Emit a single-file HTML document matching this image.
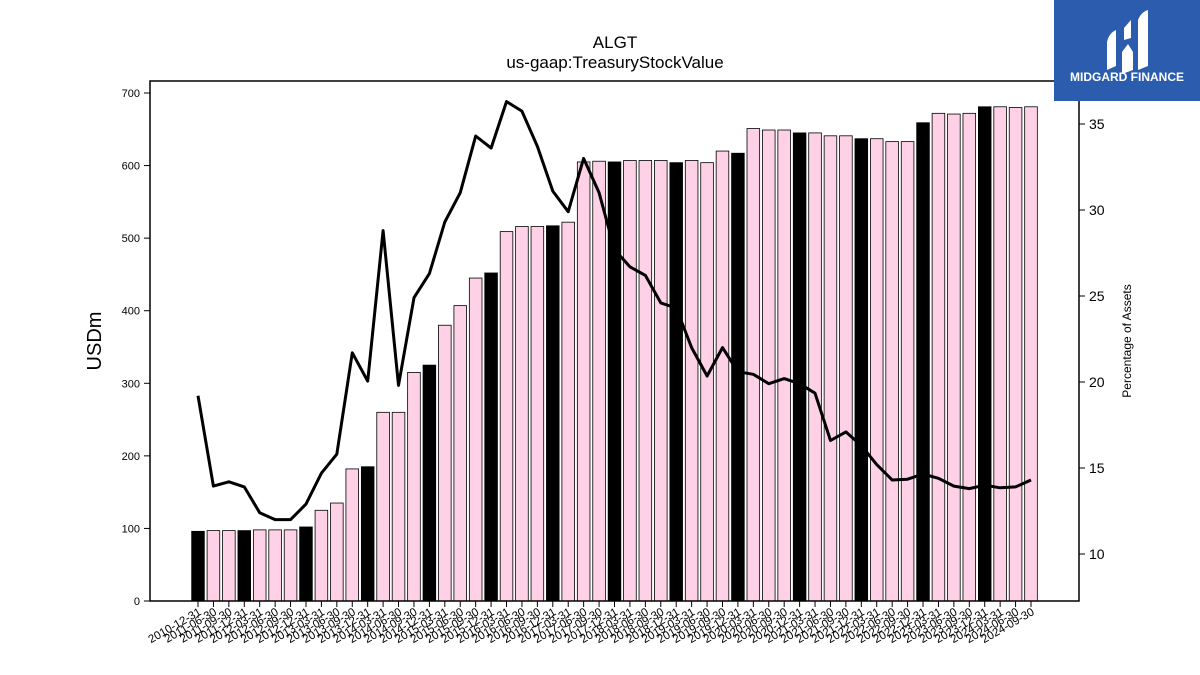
<!DOCTYPE html>
<html><head><meta charset="utf-8">
<style>
body{margin:0;background:#fff;}
svg{display:block;font-family:"Liberation Sans","DejaVu Sans",sans-serif;}
</style></head>
<body>
<svg id="chart" width="1200" height="675" viewBox="0 0 1200 675">
  <rect x="0" y="0" width="1200" height="675" fill="#fff"/>
  <text x="615" y="48" text-anchor="middle" font-size="17">ALGT</text>
  <text x="615" y="68" text-anchor="middle" font-size="17">us-gaap:TreasuryStockValue</text>
  <g id="bars"></g>
  <g id="line"></g>
  <g id="axes"></g>
  <rect x="150" y="81" width="929" height="520" fill="none" stroke="#000" stroke-width="1.5"/>
  <text x="0" y="0" transform="translate(101,341) rotate(-90)" text-anchor="middle" font-size="20">USDm</text>
  <text x="0" y="0" transform="translate(1131,341) rotate(-90)" text-anchor="middle" font-size="12">Percentage of Assets</text>
  <g>
    <rect x="1054" y="0" width="146" height="101" fill="#2b5cad"/>
    <path d="M1107 70 L1107 42 Q1109 33 1116 30 L1116 66 Z" fill="#fff"/>
    <path d="M1122 74 L1122 52 L1128 44 L1133 52 L1133 70 Z M1124 28 L1131 20 L1131 38 L1124 40 Z" fill="#fff"/>
    <path d="M1138 70 L1138 20 Q1141 12 1148 10 L1148 66 Z" fill="#fff"/>
    <text x="1127" y="81" text-anchor="middle" font-size="12" font-weight="bold" fill="#fff">MIDGARD FINANCE</text>
  </g>
</svg>
<script>
const barValues=[96,97,97,97,98,98,98,102,125,135,182,185,260,260,315,325,380,407,445,452,509,516,516,517,522,605,606,605,607,607,607,604,607,604,620,617,651,649,649,645,645,641,641,637,637,633,633,659,672,671,672,681,681,680,681];
const pctValues=[19.2,13.95,14.2,13.9,12.4,12.0,12.0,12.9,14.7,15.8,21.7,20.05,28.8,19.8,24.9,26.3,29.3,31.0,34.3,33.6,36.3,35.75,33.7,31.1,29.9,33.0,31.0,27.7,26.7,26.2,24.6,24.3,22.0,20.35,22.0,20.6,20.45,19.9,20.2,19.9,19.35,16.6,17.1,16.3,15.2,14.3,14.35,14.65,14.4,13.95,13.8,14.0,13.85,13.9,14.3];
const leftTicks=[0,100,200,300,400,500,600,700];
const rightTicks=[10,15,20,25,30,35];
const categories=(function(){const d=["2010-12-31"];const q=["03-31","06-30","09-30","12-31"];for(let y=2011;y<=2024;y++){for(let i=0;i<4;i++){if(y===2011&&i===0)continue;if(y===2024&&i===3)continue;d.push(y+"-"+q[i]);}}return d;})();

const NS="http://www.w3.org/2000/svg";
const x0=198,x1=1031;
const step=(x1-x0)/(categories.length-1);
const xScale=i=>x0+i*step;
const yLeft=v=>601-v*(508/700);
const yRight=v=>554-(v-10)*(430/25);
function mk(tag,attrs,parent){const e=document.createElementNS(NS,tag);for(const k in attrs)e.setAttribute(k,attrs[k]);parent.appendChild(e);return e;}
const bars=document.getElementById("bars"),line=document.getElementById("line"),axes=document.getElementById("axes");
const bw=step*0.82;
barValues.forEach((v,i)=>{
  const black=categories[i].endsWith("12-31");
  const r=mk("rect",{x:xScale(i)-bw/2,y:yLeft(v),width:bw,height:601-yLeft(v),fill:black?"#000":"#ffd1e6",stroke:"#000","stroke-width":0.8},bars);
  
  
});
const pts=pctValues.map((v,i)=>xScale(i).toFixed(1)+","+yRight(v).toFixed(1)).join(" ");
const pl=mk("polyline",{points:pts,fill:"none",stroke:"#000","stroke-width":3,"stroke-linejoin":"round"},line);


leftTicks.forEach(t=>{
  const y=yLeft(t);
  mk("line",{x1:144,x2:150,y1:y,y2:y,stroke:"#000","stroke-width":1},axes);
  const tx=mk("text",{x:140,y:y+4,"text-anchor":"end","font-size":11},axes);
  tx.textContent=t;
  
  
});
rightTicks.forEach(t=>{
  const y=yRight(t);
  mk("line",{x1:1079,x2:1085,y1:y,y2:y,stroke:"#000","stroke-width":1},axes);
  const tx=mk("text",{x:1089,y:y+5,"font-size":14},axes);
  tx.textContent=t;
  
  
});
categories.forEach((c,i)=>{
  const x=xScale(i);
  mk("line",{x1:x,x2:x,y1:601,y2:607,stroke:"#000","stroke-width":1},axes);
  const tx=mk("text",{x:0,y:0,transform:"translate("+(x+4)+",614) rotate(-30)","text-anchor":"end","font-size":11.5},axes);
  tx.textContent=c;
  
  
});
</script>
</body></html>
